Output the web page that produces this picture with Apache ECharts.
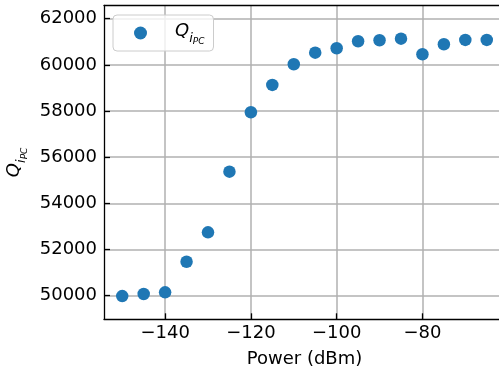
<!DOCTYPE html>
<html>
<head>
<meta charset="utf-8">
<script src="https://cdn.jsdelivr.net/npm/echarts@6/dist/echarts.min.js"></script>
<style>
  html, body { margin: 0; padding: 0; background: #fff; }
  #chart { width: 499px; height: 371px; }
</style>
</head>
<body>
<div id="chart"></div>
<script>
const powerDbm = [-150, -145, -140, -135, -130, -125, -120, -115, -110, -105, -100, -95, -90, -85, -80, -75, -70, -65];
const qValues = [49987, 50074, 50147, 51473, 52747, 55373, 57946, 59129, 60026, 60529, 60719, 61023, 61066, 61135, 60459, 60893, 61079, 61079];
const xTicks = [-140, -120, -100, -80];
const yTicks = [50000, 52000, 54000, 56000, 58000, 60000, 62000];

const font = "DejaVu Sans";
const blue = "#1f77b4";
const gridColor = "#b0b0b0";

// matplotlib-style subscript label: Q_{i_{PC}}
const qRich = {
  q: { fontFamily: font, fontStyle: "italic", fontSize: 18, color: "#000", verticalAlign: "bottom", padding: [0, 0, 6, 0] },
  i: { fontFamily: font, fontStyle: "italic", fontSize: 13, color: "#000", verticalAlign: "bottom", padding: [0, 0, 1, 0] },
  pc: { fontFamily: font, fontStyle: "italic", fontSize: 9, color: "#000", verticalAlign: "bottom", padding: [0, 0, 0, 0] },
};
const qLabel = "{q|Q}{i|i}{pc|PC}";

const minus = (v) => String(v).replace("-", "\u2212");
const spine = { color: "#000", width: 1.3 };

const chart = echarts.init(document.getElementById("chart"), null, { renderer: "canvas" });
chart.setOption({
  animation: false,
  backgroundColor: "#fff",
  // the original axes run past the right edge of the picture: no right spine
  grid: {
    left: 104, top: 5.5, width: 401, height: 313.8,
    outerBoundsMode: "none",
    containLabel: false,
    show: false,
  },
  legend: {
    data: ["Q"],
    left: 113, top: 15,
    padding: [5, 9, 5, 21],
    itemWidth: 13, itemHeight: 13,
    icon: "circle",
    borderColor: "#cccccc", borderWidth: 1, borderRadius: 4,
    backgroundColor: "rgba(255,255,255,0.8)",
    formatter: () => qLabel,
    textStyle: {
      rich: {
        q: Object.assign({}, qRich.q, { padding: [0, 0, 6, 23] }),
        i: qRich.i,
        pc: qRich.pc,
      },
      lineHeight: 26,
    },
  },
  xAxis: [
    {
      type: "value",
      min: -154.25, max: -60.75,
      name: "Power (dBm)",
      nameLocation: "middle",
      nameGap: 31,
      nameTextStyle: { fontFamily: font, fontSize: 18, color: "#000" },
      axisLine: { show: true, onZero: false, lineStyle: spine },
      axisTick: { show: true, inside: true, length: 6, customValues: xTicks, lineStyle: spine },
      axisLabel: { customValues: xTicks, margin: 5, fontFamily: font, fontSize: 18, color: "#000", formatter: minus },
      splitLine: { show: true, lineStyle: { color: gridColor, width: 1.5 } },
    },
    {
      type: "value",
      position: "top",
      min: -154.25, max: -60.75,
      axisLine: { show: true, onZero: false, lineStyle: spine },
      axisTick: { show: false },
      axisLabel: { show: false },
      splitLine: { show: false },
    },
  ],
  yAxis: {
    type: "value",
    min: 48980, max: 62570,
    name: qLabel,
    nameLocation: "middle",
    nameGap: 74,
    nameRotate: 90,
    nameTextStyle: { rich: qRich, lineHeight: 26 },
    axisLine: { show: true, onZero: false, lineStyle: spine },
    axisTick: { show: true, inside: true, length: 6, customValues: yTicks, lineStyle: spine },
    axisLabel: { customValues: yTicks, margin: 7, fontFamily: font, fontSize: 18, color: "#000", formatter: (v) => String(v) },
    splitLine: { show: true, lineStyle: { color: gridColor, width: 1.5 } },
  },
  series: [
    {
      name: "Q",
      type: "scatter",
      data: powerDbm.map((p, k) => [p, qValues[k]]),
      symbol: "circle",
      symbolSize: 12.5,
      itemStyle: { color: blue, opacity: 1 },
      clip: false,
    },
  ],
});
</script>
</body>
</html>
